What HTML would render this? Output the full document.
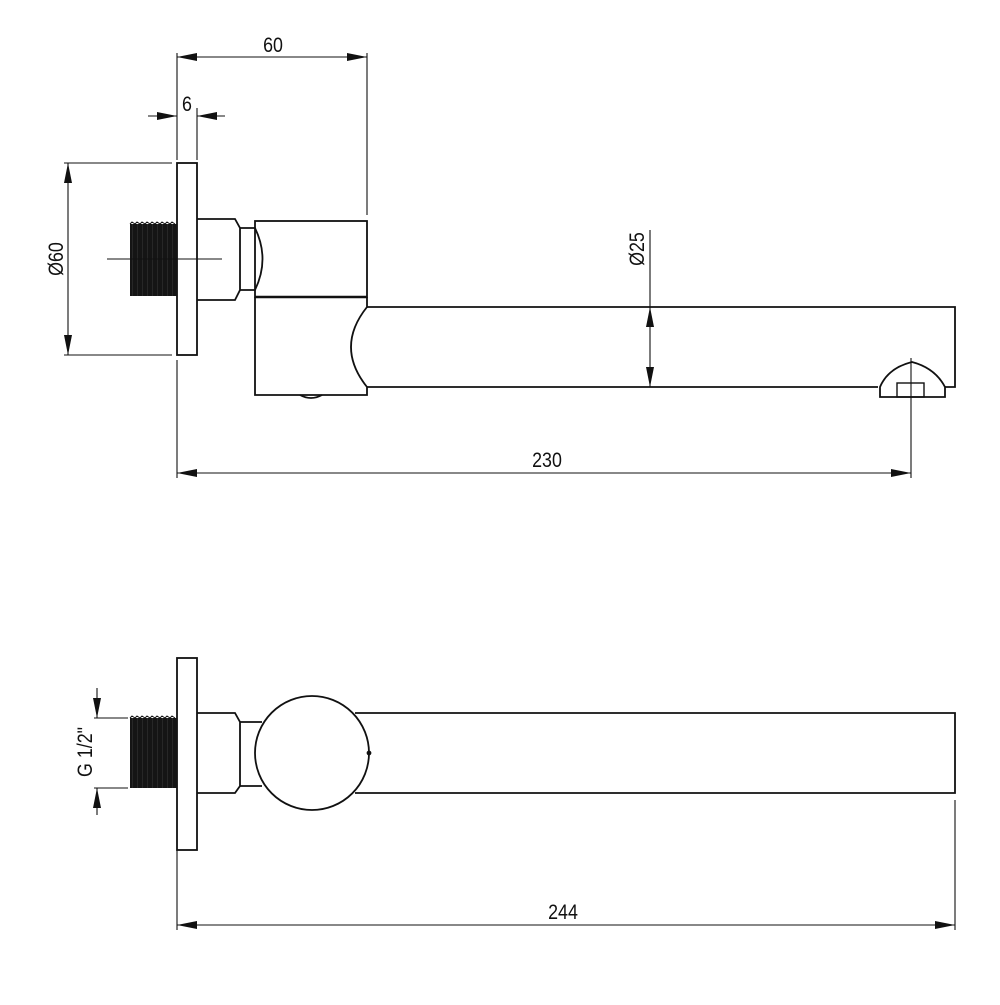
<!DOCTYPE html>
<html><head><meta charset="utf-8"><style>html,body{margin:0;padding:0;background:#fff}</style></head>
<body>
<svg width="1000" height="1000" viewBox="0 0 1000 1000" xmlns="http://www.w3.org/2000/svg">
<defs>
<marker id="a" viewBox="0 0 20 8" refX="20" refY="4" markerWidth="20" markerHeight="8" markerUnits="userSpaceOnUse" orient="auto-start-reverse"><path d="M0,0 L20,4 L0,8 Z" fill="#111"/></marker>
<pattern id="th" width="5" height="10" patternUnits="userSpaceOnUse"><rect width="5" height="10" fill="#151515"/><line x1="2.5" y1="0" x2="2.5" y2="10" stroke="#333" stroke-width="0.6"/></pattern>
</defs>
<g fill="none" stroke="#111" stroke-width="1.8">
<!-- TOP VIEW -->
<line x1="177" y1="53" x2="177" y2="160" stroke-width="1.1"/>
<line x1="367" y1="53" x2="367" y2="215" stroke-width="1.1"/>
<line x1="197" y1="108" x2="197" y2="160" stroke-width="1.1"/>
<line x1="177" y1="57" x2="367" y2="57" stroke-width="1.1" marker-start="url(#a)" marker-end="url(#a)"/>
<line x1="148" y1="116" x2="177" y2="116" stroke-width="1.1" marker-end="url(#a)"/>
<line x1="225" y1="116" x2="197" y2="116" stroke-width="1.1" marker-end="url(#a)"/>
<line x1="64" y1="163" x2="172" y2="163" stroke-width="1.1"/>
<line x1="64" y1="355" x2="172" y2="355" stroke-width="1.1"/>
<line x1="68" y1="163" x2="68" y2="355" stroke-width="1.1" marker-start="url(#a)" marker-end="url(#a)"/>
<rect x="177" y="163" width="20" height="192"/>
<rect x="130" y="224" width="47" height="72" fill="url(#th)" stroke="none"/>
<path d="M130,224 l2,-2 l3,2 l2,-2 l3,2 l2,-2 l3,2 l2,-2 l3,2 l2,-2 l3,2 l2,-2 l3,2 l2,-2 l3,2 l2,-2 l3,2 l2,-2 l3,2" stroke-width="1"/>
<line x1="107" y1="259" x2="222" y2="259" stroke-width="1.1"/>
<path d="M197,219 H235 L240,228 V290 L235,300 H197"/>
<path d="M240,228 H255 Q270,259 255,290 H240"/>
<rect x="255" y="221" width="112" height="76"/>
<line x1="255" y1="297" x2="367" y2="297" stroke-width="2.6"/>
<path d="M255,297 V395 H367 V387 Q335,347 367,307 V297"/>
<path d="M367,307 H955 V387 H945"/>
<path d="M367,387 H878"/>
<path d="M300,395 Q311,401 322,395"/>
<path d="M880,387 V397 H945 V387 Q935,368 912,362 Q888,368 880,387 Z"/>
<rect x="897" y="383" width="27" height="14" stroke-width="1.4"/>
<line x1="911" y1="358" x2="911" y2="478" stroke-width="1.1"/>
<line x1="650" y1="230" x2="650" y2="307" stroke-width="1.1"/>
<line x1="650" y1="307" x2="650" y2="387" stroke-width="1.1" marker-start="url(#a)" marker-end="url(#a)"/>
<line x1="177" y1="360" x2="177" y2="478" stroke-width="1.1"/>
<line x1="177" y1="473" x2="911" y2="473" stroke-width="1.1" marker-start="url(#a)" marker-end="url(#a)"/>
<!-- BOTTOM VIEW -->
<rect x="177" y="658" width="20" height="192"/>
<line x1="177" y1="850" x2="177" y2="930" stroke-width="1.1"/>
<line x1="955" y1="800" x2="955" y2="930" stroke-width="1.1"/>
<rect x="130" y="718" width="47" height="70" fill="url(#th)" stroke="none"/>
<path d="M130,718 l2,-2 l3,2 l2,-2 l3,2 l2,-2 l3,2 l2,-2 l3,2 l2,-2 l3,2 l2,-2 l3,2 l2,-2 l3,2 l2,-2 l3,2 l2,-2 l3,2" stroke-width="1"/>
<line x1="94" y1="718" x2="128" y2="718" stroke-width="1.1"/>
<line x1="94" y1="788" x2="128" y2="788" stroke-width="1.1"/>
<line x1="97" y1="688" x2="97" y2="718" stroke-width="1.1" marker-end="url(#a)"/>
<line x1="97" y1="815" x2="97" y2="788" stroke-width="1.1" marker-end="url(#a)"/>
<path d="M197,713 H235 L240,722 V786 L235,793 H197"/>
<path d="M240,722 H262 M240,786 H262"/>
<path d="M355,713 H955 V793 H355"/>
<circle cx="312" cy="753" r="57" fill="#fff"/>
<circle cx="369" cy="753" r="1.5" fill="#111"/>
<line x1="177" y1="925" x2="955" y2="925" stroke-width="1.1" marker-start="url(#a)" marker-end="url(#a)"/>
</g>
<g font-family="Liberation Sans, sans-serif" font-size="21" fill="#111" text-anchor="middle">
<text transform="translate(273,52) scale(0.85,1)">60</text>
<text transform="translate(187,111) scale(0.85,1)">6</text>
<text transform="translate(547,467) scale(0.85,1)">230</text>
<text transform="translate(563,919) scale(0.85,1)">244</text>
<text transform="translate(63,259) rotate(-90) scale(0.85,1)">Ø60</text>
<text transform="translate(644,249) rotate(-90) scale(0.85,1)">Ø25</text>
<text transform="translate(92,752) rotate(-90) scale(0.85,1)">G 1/2"</text>
</g>
</svg>
</body></html>
